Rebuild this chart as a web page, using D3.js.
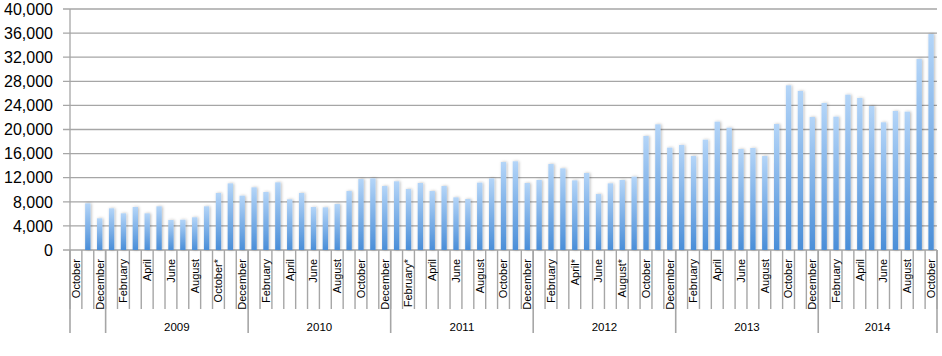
<!DOCTYPE html>
<html>
<head>
<meta charset="utf-8">
<script src="https://cdn.jsdelivr.net/npm/d3@7"></script>
<style>
  html, body { margin: 0; padding: 0; background: #ffffff; }
  svg { display: block; }
</style>
</head>
<body>
<svg id="chart" width="942" height="356"></svg>
<script>
// ---- DATA ----
const monthNames = [
  "October","November","December",
  "January","February","March","April","May","June","July","August","September","October*","November","December",
  "January","February","March","April","May","June","July","August","September","October","November","December",
  "January","February*","March","April","May","June","July","August","September","October","November","December",
  "January","February","March","April*","May","June","July","August*","September","October","November","December",
  "January","February","March","April","May","June","July","August","September","October","November","December",
  "January","February","March","April","May","June","July","August","September","October"
];
const yearLabels = ["", "2009", "2010", "2011", "2012", "2013", "2014"];
const monthsPerYear = [3, 12, 12, 12, 12, 12, 10];
const values = [
  null, 7750, 5260,
  6920, 6090, 7140, 6090, 7250, 4980, 5030, 5430, 7250, 9460, 11060, 9020,
  10400, 9630, 11230, 8410, 9460, 7140, 7080, 7630, 9790, 11780, 11890, 10620,
  11400, 10120, 11120, 9790, 10620, 8740, 8460, 11180, 11890, 14600, 14720, 11120,
  11620, 14270, 13550, 11560, 12780, 9290, 11060, 11620, 12170, 18920, 20860, 16990,
  17430, 15600, 18310, 21300, 20300, 16760, 16930, 15600, 20910, 27330, 26390, 22070,
  24400, 22130, 25780, 25230, 23900, 21190, 23070, 22960, 31700, 35850
];
const yTicks = [0, 4000, 8000, 12000, 16000, 20000, 24000, 28000, 32000, 36000, 40000];

(function () {
// ---- LAYOUT ----
const pLeft = 70, pRight = 937, pTop = 9, pBottom = 250;
const gridColor = "#a6a6a6";
const svg = d3.select("#chart");

const idx = d3.range(monthNames.length);
const x = d3.scaleBand().domain(idx).range([pLeft, pRight]).paddingInner(0).paddingOuter(0);
const y = d3.scaleLinear().domain([0, 40000]).range([pBottom, pTop]);

const defs = svg.append("defs");
const grad = defs.append("linearGradient").attr("id", "barGrad")
  .attr("x1", 0).attr("y1", 0).attr("x2", 0).attr("y2", 1);
grad.append("stop").attr("offset", "0%").attr("stop-color", "#b4d5f8");
grad.append("stop").attr("offset", "100%").attr("stop-color", "#4a8ed8");
const filt = defs.append("filter").attr("id", "shadow")
  .attr("x", "-150%").attr("y", "-10%").attr("width", "400%").attr("height", "120%");
filt.append("feDropShadow").attr("dx", 1).attr("dy", 0).attr("stdDeviation", 1.6)
  .attr("flood-color", "#000").attr("flood-opacity", 0.28);

// gridlines + y ticks
svg.append("g").selectAll("line").data(yTicks).join("line")
  .attr("x1", pLeft - 7).attr("x2", pRight)
  .attr("y1", d => y(d)).attr("y2", d => y(d))
  .attr("stroke", gridColor).attr("stroke-width", 1.3);

// y axis line
svg.append("line").attr("x1", pLeft).attr("x2", pLeft).attr("y1", pTop).attr("y2", pBottom)
  .attr("stroke", gridColor).attr("stroke-width", 1.3);

// y labels
svg.append("g").selectAll("text").data(yTicks).join("text")
  .attr("x", 53).attr("y", d => y(d))
  .attr("dy", "0.36em")
  .attr("text-anchor", "end")
  .attr("font-family", "Liberation Sans, Arial, sans-serif")
  .attr("font-size", 16)
  .attr("fill", "#000")
  .text(d => d3.format(",")(d));

// bars
const bw = x.bandwidth() * 0.45;
svg.append("g").selectAll("rect").data(idx.filter(i => values[i] != null)).join("rect")
  .attr("x", i => x(i) + (x.bandwidth() - bw) / 2)
  .attr("y", i => y(values[i]))
  .attr("width", bw)
  .attr("height", i => y(0) - y(values[i]))
  .attr("fill", "url(#barGrad)")
  .attr("filter", "url(#shadow)");

// month separators
const sepIdx = d3.range(monthNames.length + 1);
svg.append("g").selectAll("line").data(sepIdx).join("line")
  .attr("x1", i => i < monthNames.length ? x(i) : pRight)
  .attr("x2", i => i < monthNames.length ? x(i) : pRight)
  .attr("y1", pBottom).attr("y2", 309)
  .attr("stroke", gridColor).attr("stroke-width", 1.4);

// month labels (every other month)
svg.append("g").selectAll("text").data(idx.filter(i => i % 2 === 0)).join("text")
  .attr("transform", i => `translate(${x(i) + x.bandwidth() / 2},259) rotate(-90)`)
  .attr("dy", "0.35em")
  .attr("text-anchor", "end")
  .attr("font-family", "Liberation Sans, Arial, sans-serif")
  .attr("font-size", 11)
  .attr("fill", "#000")
  .text(i => monthNames[i]);

// year separators and labels
const yearStarts = [];
let acc = 0;
monthsPerYear.forEach(c => { yearStarts.push(acc); acc += c; });
const yearBounds = yearStarts.concat([acc]);
svg.append("g").selectAll("line").data(yearBounds).join("line")
  .attr("x1", i => i < monthNames.length ? x(i) : pRight)
  .attr("x2", i => i < monthNames.length ? x(i) : pRight)
  .attr("y1", pBottom).attr("y2", 333)
  .attr("stroke", gridColor).attr("stroke-width", 1.6);

svg.append("g").selectAll("text").data(yearLabels).join("text")
  .attr("x", (d, k) => {
    const s = yearStarts[k], e = s + monthsPerYear[k];
    const xe = e < monthNames.length ? x(e) : pRight;
    return (x(s) + xe) / 2;
  })
  .attr("y", 331)
  .attr("text-anchor", "middle")
  .attr("font-family", "Liberation Sans, Arial, sans-serif")
  .attr("font-size", 11.5)
  .attr("fill", "#000")
  .text(d => d);
})();
</script>
</body>
</html>
